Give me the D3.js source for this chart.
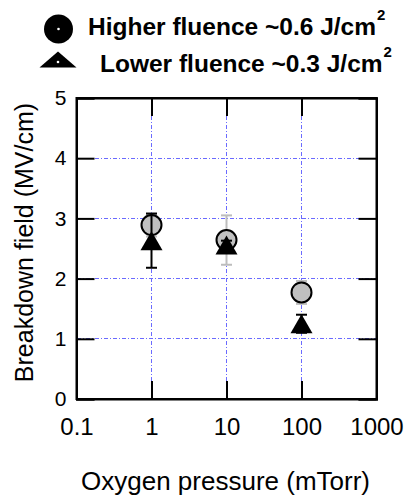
<!DOCTYPE html>
<html>
<head>
<meta charset="utf-8">
<script src="https://cdn.jsdelivr.net/npm/d3@7"></script>
<style>
  body { margin: 0; background: #fff; }
  svg { display: block; font-family: Arial, "Liberation Sans", sans-serif; }
</style>
</head>
<body>
<svg id="chart" width="412" height="497"></svg>
<script>
// data
const pressures = [1, 10, 100];
const higherVals = [2.89, 2.64, 1.77];
const higherErr = [0.19, 0.41, 0.19];
const lowerVals = [2.63, 2.56, 1.25];
const lowerErr = [0.45, 0.07, 0.15];
const xTicks = [0.1, 1, 10, 100, 1000];
const yTicks = [0, 1, 2, 3, 4, 5];

const svg = d3.select('#chart');
const plot = { left: 76.5, right: 376.5, top: 98, bottom: 399 };

const x = d3.scaleLog().domain([0.1, 1000]).range([plot.left, plot.right]);
const y = d3.scaleLinear().domain([0, 5]).range([plot.bottom, plot.top]);
const crisp = v => Math.round(v - 0.5) + 0.5;

const higher = pressures.map((p, i) => ({ p, v: higherVals[i], e: higherErr[i] }));
const lower = pressures.map((p, i) => ({ p, v: lowerVals[i], e: lowerErr[i] }));

// grid
const grid = svg.append('g').attr('class', 'grid');
grid.selectAll('line.gx').data(xTicks.slice(1, -1)).join('line')
  .attr('class', 'gx')
  .attr('x1', d => crisp(x(d))).attr('x2', d => crisp(x(d)))
  .attr('y1', plot.top).attr('y2', plot.bottom);
grid.selectAll('line.gy').data(yTicks.slice(1, -1)).join('line')
  .attr('class', 'gy')
  .attr('y1', d => crisp(y(d))).attr('y2', d => crisp(y(d)))
  .attr('x1', plot.left).attr('x2', plot.right);
grid.selectAll('line')
  .attr('stroke', '#6a6aff').attr('stroke-width', 1)
  .attr('stroke-dasharray', '4,2,1,2')
  .attr('shape-rendering', 'crispEdges');

// axes: inward ticks on all four sides
const tick = 18;
const axisB = d3.axisBottom(x).tickValues(xTicks).tickSize(-tick).tickPadding(19)
  .tickFormat(d => d3.format('~g')(d));
const axisT = d3.axisTop(x).tickValues(xTicks).tickSize(-tick).tickFormat('');
const axisL = d3.axisLeft(y).tickValues(yTicks).tickSize(-tick).tickPadding(10)
  .tickFormat(d3.format('d'));
const axisR = d3.axisRight(y).tickValues(yTicks).tickSize(-tick).tickFormat('');

const gB = svg.append('g').attr('transform', `translate(0,${plot.bottom})`).call(axisB);
const gT = svg.append('g').attr('transform', `translate(0,${plot.top})`).call(axisT);
const gL = svg.append('g').attr('transform', `translate(${plot.left},0)`).call(axisL);
const gR = svg.append('g').attr('transform', `translate(${plot.right},0)`).call(axisR);

[gB, gT, gL, gR].forEach(g => {
  g.select('.domain').attr('stroke', '#000').attr('stroke-width', 2);
  g.selectAll('.tick line').attr('stroke', '#000').attr('stroke-width', 2);
  g.selectAll('.tick text').attr('fill', '#000').style('font-family', 'Arial, "Liberation Sans", sans-serif');
});
gB.selectAll('.tick text').style('font-size', '24px');
gL.selectAll('.tick text').style('font-size', '21px');

// frame
svg.append('rect')
  .attr('x', plot.left).attr('y', plot.top)
  .attr('width', plot.right - plot.left).attr('height', plot.bottom - plot.top)
  .attr('fill', 'none').attr('stroke', '#000').attr('stroke-width', 2);

// error bars
function errorBars(data, color, cls) {
  const g = svg.append('g').attr('class', cls).attr('stroke', color).attr('stroke-width', 2);
  g.selectAll('.v').data(data).join('line')
    .attr('x1', d => x(d.p)).attr('x2', d => x(d.p))
    .attr('y1', d => y(d.v + d.e)).attr('y2', d => y(d.v - d.e));
  g.selectAll('.t').data(data).join('line')
    .attr('x1', d => x(d.p) - 5.5).attr('x2', d => x(d.p) + 5.5)
    .attr('y1', d => y(d.v + d.e)).attr('y2', d => y(d.v + d.e));
  g.selectAll('.b').data(data).join('line')
    .attr('x1', d => x(d.p) - 5.5).attr('x2', d => x(d.p) + 5.5)
    .attr('y1', d => y(d.v - d.e)).attr('y2', d => y(d.v - d.e));
}

function tri(cx, cy, w, h) {
  return `M${cx},${cy - h / 2}L${cx + w / 2},${cy + h / 2}L${cx - w / 2},${cy + h / 2}Z`;
}

errorBars(higher, '#bdbdbd', 'err-high');
svg.append('g').selectAll('circle').data(higher).join('circle')
  .attr('cx', d => x(d.p)).attr('cy', d => y(d.v)).attr('r', 10)
  .attr('fill', '#c0c0c0').attr('stroke', '#000').attr('stroke-width', 2);

errorBars(lower, '#000', 'err-low');
svg.append('g').selectAll('path').data(lower).join('path')
  .attr('d', d => tri(x(d.p), y(d.v), 22, 19))
  .attr('fill', '#000');

// axis titles
svg.append('text')
  .attr('x', (plot.left + plot.right) / 2 - 1).attr('y', 490)
  .attr('text-anchor', 'middle')
  .style('font-size', '26px')
  .text('Oxygen pressure (mTorr)');

svg.append('text')
  .attr('transform', `translate(33,${(plot.top + plot.bottom) / 2 - 6}) rotate(-90)`)
  .attr('text-anchor', 'middle')
  .style('font-size', '25px')
  .text('Breakdown field (MV/cm)');

// legend
const leg = svg.append('g');
leg.append('circle').attr('cx', 58.5).attr('cy', 29).attr('r', 14.5).attr('fill', '#000');
leg.append('circle').attr('cx', 58.5).attr('cy', 29).attr('r', 1.3).attr('fill', '#fff');
leg.append('path').attr('d', tri(58, 59.5, 37, 16)).attr('fill', '#000');
leg.append('circle').attr('cx', 58).attr('cy', 62).attr('r', 1.3).attr('fill', '#fff');

const legendLabels = ['Higher fluence ~0.6 J/cm', 'Lower fluence ~0.3 J/cm'];
const legendX = [88, 100];
const legendY = [35, 72];
legendLabels.forEach((t, i) => {
  const txt = leg.append('text')
    .attr('x', legendX[i]).attr('y', legendY[i])
    .style('font-size', '24.5px').style('font-weight', 'bold');
  txt.append('tspan').text(t);
  txt.append('tspan').attr('dy', -15).attr('dx', 1).style('font-size', '15px').text('2');
});
</script>
</body>
</html>
